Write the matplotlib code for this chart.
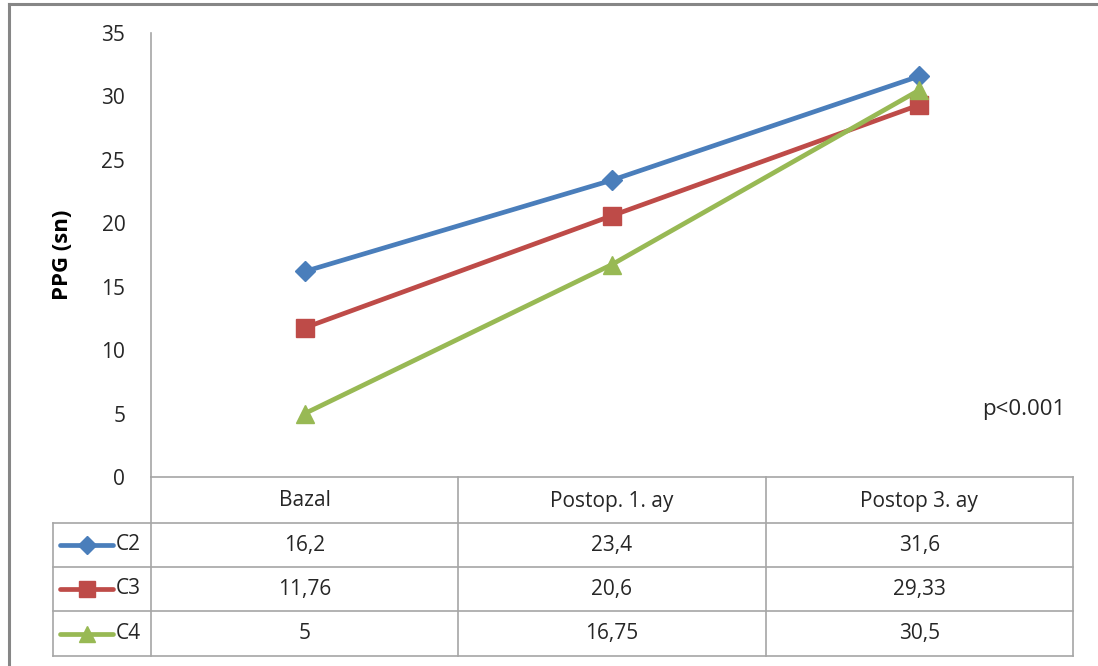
import matplotlib
matplotlib.use("Agg")
import matplotlib.pyplot as plt
from matplotlib.lines import Line2D

plt.rcParams["font.family"] = ["Open Sans", "DejaVu Sans"]

categories = ["Bazal", "Postop. 1. ay", "Postop 3. ay"]
series_names = ["C2", "C3", "C4"]
c2_values = [16.2, 23.4, 31.6]
c3_values = [11.76, 20.6, 29.33]
c4_values = [5, 16.75, 30.5]
value_labels = [
    ["16,2", "23,4", "31,6"],
    ["11,76", "20,6", "29,33"],
    ["5", "16,75", "30,5"],
]
y_ticks = [0, 5, 10, 15, 20, 25, 30, 35]

colors = ["#4a7ebb", "#be4b48", "#98b954"]
markers = ["D", "s", "^"]
msizes = [10.5, 13, 13]
grid_col = "#a6a6a6"
text_col = "#262626"
fs = 15

W, H = 1098, 666
fig = plt.figure(figsize=(W / 100, H / 100), dpi=100)

# plot area in pixel terms
x0, x1 = 151, 1073
y_top, y_bot = 33, 477
ax = fig.add_axes([x0 / W, 1 - y_bot / H, (x1 - x0) / W, (y_bot - y_top) / H])
ax.set_xlim(-0.5, 2.5)
ax.set_ylim(0, 35)

for vals, col, mk, ms in zip([c2_values, c3_values, c4_values], colors, markers, msizes):
    ax.plot(range(3), vals, color=col, lw=3.4, marker=mk, ms=ms,
            markeredgecolor=col, solid_capstyle="round", zorder=3)

ax.set_yticks(y_ticks)
ax.set_yticklabels([str(t) for t in y_ticks], fontsize=fs, color=text_col)
ax.tick_params(axis="y", length=0, pad=18.5)
ax.set_xticks([])
for side in ["top", "right"]:
    ax.spines[side].set_visible(False)
ax.spines["left"].set_color(grid_col)
ax.spines["bottom"].set_color(grid_col)
ax.spines["left"].set_linewidth(1.2)
ax.spines["bottom"].set_linewidth(1.2)
ax.set_ylabel("PPG (sn)", fontsize=16, fontweight="bold", color="black")
ax.yaxis.set_label_coords(-0.0846, 0.5)
ax.text(2.474, 5.3, "p<0.001", fontsize=16, color=text_col, ha="right", va="center")

# data table below the plot, drawn in pixel coordinates
tx0 = 53
tab = fig.add_axes([0, 0, 1, 1], facecolor="none")
tab.set_xlim(0, W)
tab.set_ylim(H, 0)
tab.axis("off")

col_w = (x1 - x0) / 3
row_y = [477, 523, 567, 611, 656]
lw = 1.2
for i in range(4):
    xv = x0 + i * col_w
    tab.plot([xv, xv], [477, 656], color=grid_col, lw=lw)
tab.plot([tx0, tx0], [523, 656], color=grid_col, lw=lw)
for yv in row_y[1:]:
    tab.plot([tx0, x1], [yv, yv], color=grid_col, lw=lw)

for j, cat in enumerate(categories):
    tab.text(x0 + (j + 0.5) * col_w, 501, cat, fontsize=fs, color=text_col,
             ha="center", va="center")

for i, name in enumerate(series_names):
    yc = (row_y[i + 1] + row_y[i + 2]) / 2
    tab.add_line(Line2D([60, 113], [yc, yc], color=colors[i], lw=3.4,
                        solid_capstyle="round"))
    tab.plot([86.5], [yc], marker=markers[i], ms=msizes[i] - 1.5, color=colors[i])
    tab.text(116, yc, name, fontsize=fs, color=text_col, ha="left", va="center")
    for j in range(3):
        tab.text(x0 + (j + 0.5) * col_w, yc, value_labels[i][j], fontsize=fs,
                 color=text_col, ha="center", va="center")

# outer chart frame
tab.plot([9, W], [4, 4], color="#868686", lw=2.2)
tab.plot([9, 9], [4, H], color="#868686", lw=2.2)

fig.savefig("out.png", dpi=100, facecolor="white")
